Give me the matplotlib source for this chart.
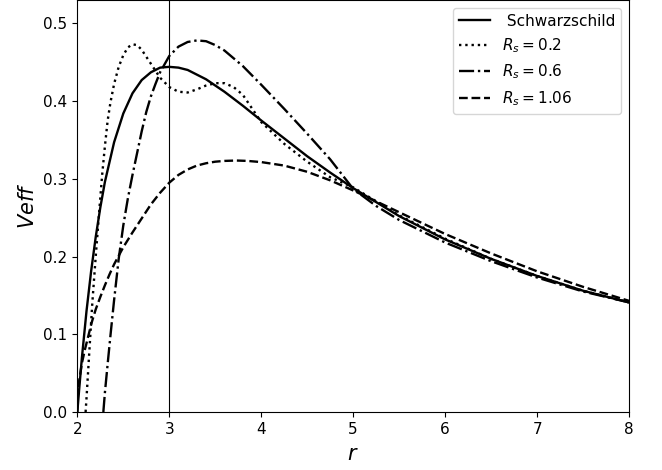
# Effective potential curves
import numpy as np
import matplotlib.pyplot as plt

# Schwarzschild
r_s = [2.0, 2.02, 2.05, 2.1, 2.15, 2.2, 2.25, 2.3, 2.4, 2.5, 2.6, 2.7, 2.8, 2.9, 3.0,
       3.1, 3.2, 3.3, 3.4, 3.6, 3.8, 4.0, 4.25, 4.5, 4.75, 5.0, 5.5, 6.0, 6.5, 7.0, 7.5, 8.0]
v_s = [0.0, 0.029, 0.070, 0.130, 0.181, 0.225, 0.263, 0.296, 0.347, 0.384, 0.410, 0.427, 0.437, 0.443, 0.444,
       0.443, 0.440, 0.434, 0.428, 0.412, 0.394, 0.375, 0.352, 0.329, 0.308, 0.288, 0.252, 0.222, 0.197, 0.175, 0.156, 0.141]

# Rs = 0.2
r_02 = [2.09, 2.1, 2.127, 2.163, 2.2, 2.236, 2.27, 2.3, 2.33, 2.36, 2.4, 2.45, 2.5, 2.55, 2.6, 2.65, 2.7, 2.75, 2.8, 2.9,
        3.0, 3.1, 3.2, 3.3, 3.4, 3.5, 3.6, 3.7, 3.8, 4.0, 4.25, 4.5, 4.75, 5.0, 5.5, 6.0, 6.5, 7.0, 7.5, 8.0]
v_02 = [0.0, 0.018, 0.071, 0.140, 0.200, 0.255, 0.305, 0.342, 0.375, 0.398, 0.422, 0.444, 0.459, 0.469, 0.473, 0.472, 0.466, 0.457, 0.448, 0.430,
        0.418, 0.412, 0.411, 0.415, 0.420, 0.423, 0.423, 0.418, 0.408, 0.373, 0.345, 0.322, 0.302, 0.289, 0.253, 0.223, 0.197, 0.175, 0.156, 0.141]

# Rs = 0.6
r_06 = [2.283, 2.3, 2.33, 2.36, 2.4, 2.45, 2.5, 2.55, 2.6, 2.65, 2.7, 2.75, 2.8, 2.85, 2.9, 3.0, 3.1, 3.2, 3.3, 3.4, 3.5, 3.6,
        3.8, 4.0, 4.25, 4.5, 4.75, 5.0, 5.25, 5.5, 6.0, 6.5, 7.0, 7.5, 8.0]
v_06 = [0.0, 0.025, 0.062, 0.098, 0.144, 0.197, 0.240, 0.275, 0.305, 0.333, 0.361, 0.386, 0.406, 0.422, 0.437, 0.458, 0.470, 0.476, 0.478, 0.477, 0.472, 0.465,
        0.445, 0.421, 0.390, 0.358, 0.325, 0.287, 0.265, 0.247, 0.218, 0.194, 0.173, 0.155, 0.141]

# Rs = 1.06
r_106 = [2.0, 2.005, 2.02, 2.05, 2.084, 2.12, 2.156, 2.2, 2.25, 2.3, 2.35, 2.4, 2.45, 2.5, 2.6, 2.7, 2.8, 2.9, 3.0, 3.1, 3.2, 3.3, 3.4,
         3.5, 3.6, 3.73, 3.85, 4.0, 4.25, 4.5, 4.75, 5.0, 5.25, 5.5, 5.75, 6.0, 6.5, 7.0, 7.5, 8.0]
v_106 = [0.0, 0.020, 0.040, 0.063, 0.081, 0.098, 0.115, 0.132, 0.148, 0.163, 0.177, 0.190, 0.201, 0.212, 0.231, 0.249, 0.267, 0.282, 0.295, 0.305, 0.312, 0.317, 0.320,
         0.322, 0.323, 0.3235, 0.323, 0.3215, 0.317, 0.309, 0.298, 0.285, 0.271, 0.257, 0.243, 0.229, 0.204, 0.181, 0.161, 0.143]

fig = plt.figure(figsize=(6.62, 4.70), dpi=100)
ax = fig.add_axes([0.1168, 0.1234, 0.8334, 0.8766])

lw = 1.7
ax.plot(r_s, v_s, color='black', linestyle='-', linewidth=lw, label=' Schwarzschild')
ax.plot(r_02, v_02, color='black', linestyle=':', linewidth=lw, label='$R_s=0.2$')
ax.plot(r_06, v_06, color='black', linestyle='-.', linewidth=lw, label='$R_s=0.6$')
ax.plot(r_106, v_106, color='black', linestyle='--', linewidth=lw, label='$R_s=1.06$')
ax.axvline(3, color='black', linewidth=0.8)

ax.set_xlim(2, 8)
ax.set_ylim(0, 0.53)
ax.set_xlabel('$r$', fontsize=15, labelpad=5)
ax.set_ylabel('$Veff$', fontsize=15)
ax.tick_params(labelsize=11)
ax.legend(loc='upper right', fontsize=11)

plt.savefig('out.png', dpi=100)
